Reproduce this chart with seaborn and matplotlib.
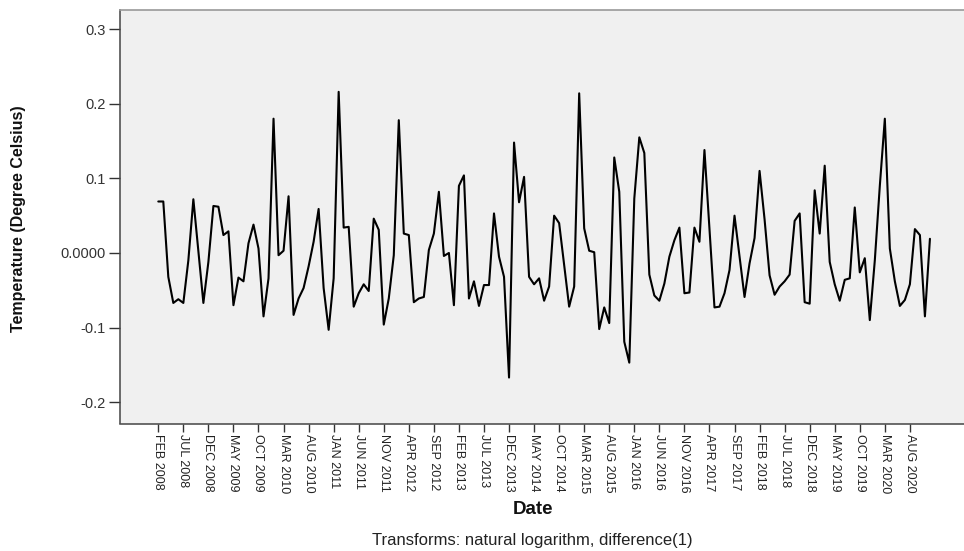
import numpy as np
import pandas as pd
import matplotlib
matplotlib.use("Agg")
import matplotlib.pyplot as plt
import seaborn as sns

# Monthly values (ln, first difference), FEB 2008 .. DEC 2020
vals_2008 = [0.069, 0.069, -0.032, -0.067, -0.062, -0.067, -0.010, 0.072, 0.002, -0.067, -0.012]
vals_2009 = [0.063, 0.062, 0.024, 0.029, -0.070, -0.033, -0.038, 0.013, 0.038, 0.006, -0.085, -0.034]
vals_2010 = [0.180, -0.003, 0.003, 0.076, -0.083, -0.061, -0.047, -0.018, 0.015, 0.059, -0.047, -0.103]
vals_2011 = [-0.034, 0.216, 0.034, 0.035, -0.072, -0.054, -0.042, -0.051, 0.046, 0.031, -0.096, -0.061]
vals_2012 = [-0.003, 0.178, 0.026, 0.024, -0.066, -0.061, -0.059, 0.004, 0.026, 0.082, -0.004, 0.000]
vals_2013 = [-0.070, 0.090, 0.104, -0.061, -0.038, -0.071, -0.043, -0.043, 0.053, -0.005, -0.032, -0.167]
vals_2014 = [0.148, 0.068, 0.102, -0.032, -0.042, -0.034, -0.064, -0.045, 0.050, 0.040, -0.016, -0.072]
vals_2015 = [-0.045, 0.214, 0.033, 0.003, 0.001, -0.102, -0.073, -0.094, 0.128, 0.082, -0.119, -0.147]
vals_2016 = [0.073, 0.155, 0.134, -0.029, -0.057, -0.064, -0.041, -0.005, 0.017, 0.034, -0.054, -0.053]
vals_2017 = [0.034, 0.015, 0.138, 0.033, -0.073, -0.072, -0.054, -0.023, 0.050, -0.005, -0.059, -0.014]
vals_2018 = [0.020, 0.110, 0.045, -0.030, -0.056, -0.045, -0.038, -0.029, 0.043, 0.053, -0.066, -0.068]
vals_2019 = [0.084, 0.026, 0.117, -0.012, -0.042, -0.064, -0.036, -0.034, 0.061, -0.026, -0.007, -0.090]
vals_2020 = [-0.010, 0.090, 0.180, 0.006, -0.038, -0.071, -0.063, -0.042, 0.032, 0.024, -0.085, 0.019]

tick_labels = ["FEB 2008", "JUL 2008", "DEC 2008", "MAY 2009", "OCT 2009", "MAR 2010",
               "AUG 2010", "JAN 2011", "JUN 2011", "NOV 2011", "APR 2012", "SEP 2012",
               "FEB 2013", "JUL 2013", "DEC 2013", "MAY 2014", "OCT 2014", "MAR 2015",
               "AUG 2015", "JAN 2016", "JUN 2016", "NOV 2016", "APR 2017", "SEP 2017",
               "FEB 2018", "JUL 2018", "DEC 2018", "MAY 2019", "OCT 2019", "MAR 2020",
               "AUG 2020"]
y_ticks = [-0.2, -0.1, 0.0, 0.1, 0.2, 0.3]
y_tick_labels = ["-0.2", "-0.1", "0.0000", "0.1", "0.2", "0.3"]

values = (vals_2008 + vals_2009 + vals_2010 + vals_2011 + vals_2012 + vals_2013 + vals_2014
          + vals_2015 + vals_2016 + vals_2017 + vals_2018 + vals_2019 + vals_2020)
df = pd.DataFrame({"t": np.arange(len(values)), "value": values})

sns.set_theme(style="white")
plt.rcParams["font.family"] = ["Liberation Sans", "DejaVu Sans"]

fig = plt.figure(figsize=(9.64, 5.51), dpi=100)
W, H = 964, 551
ax = fig.add_axes([119.5 / W, 1 - 423.5 / H, (W - 119.5) / W, (423.5 - 10) / H])
ax.set_facecolor("#F0F0F0")

sns.lineplot(data=df, x="t", y="value", color="black", linewidth=1.5, ax=ax)

ax.set_xlim(-7.74, 160.8)
ax.set_ylim(-0.2286, 0.3257)

ax.set_xticks(np.arange(0, 5 * len(tick_labels), 5))
ax.set_xticklabels(tick_labels, rotation=-90, fontsize=9, color="#222222")
ax.set_yticks(y_ticks)
ax.set_yticklabels(y_tick_labels, fontsize=10.5, color="#333333")

ax.tick_params(axis="x", direction="out", length=6, width=1, color="#333333", pad=1.5, bottom=True)
ax.tick_params(axis="y", direction="out", length=8, width=1, color="#333333", pad=2, left=True)

ax.set_xlabel("")
ax.set_ylabel("")
for side in ["left", "bottom"]:
    ax.spines[side].set_color("#444444")
    ax.spines[side].set_linewidth(1.1)
ax.spines["top"].set_color("#999999")
ax.spines["top"].set_linewidth(1.2)
ax.spines["right"].set_visible(False)

fig.text(19 / W, 1 - 219 / H, "Temperature (Degree Celsius)", rotation=90,
         ha="center", va="center", fontsize=11.5, fontweight="bold", color="#111111")
fig.text(533 / W, 1 - 509 / H, "Date", ha="center", va="center",
         fontsize=13.5, fontweight="bold", color="#111111")
fig.text(532 / W, 1 - 540 / H, "Transforms: natural logarithm, difference(1)",
         ha="center", va="center", fontsize=12, color="#222222")

fig.savefig("out.png", dpi=100, facecolor="white")
